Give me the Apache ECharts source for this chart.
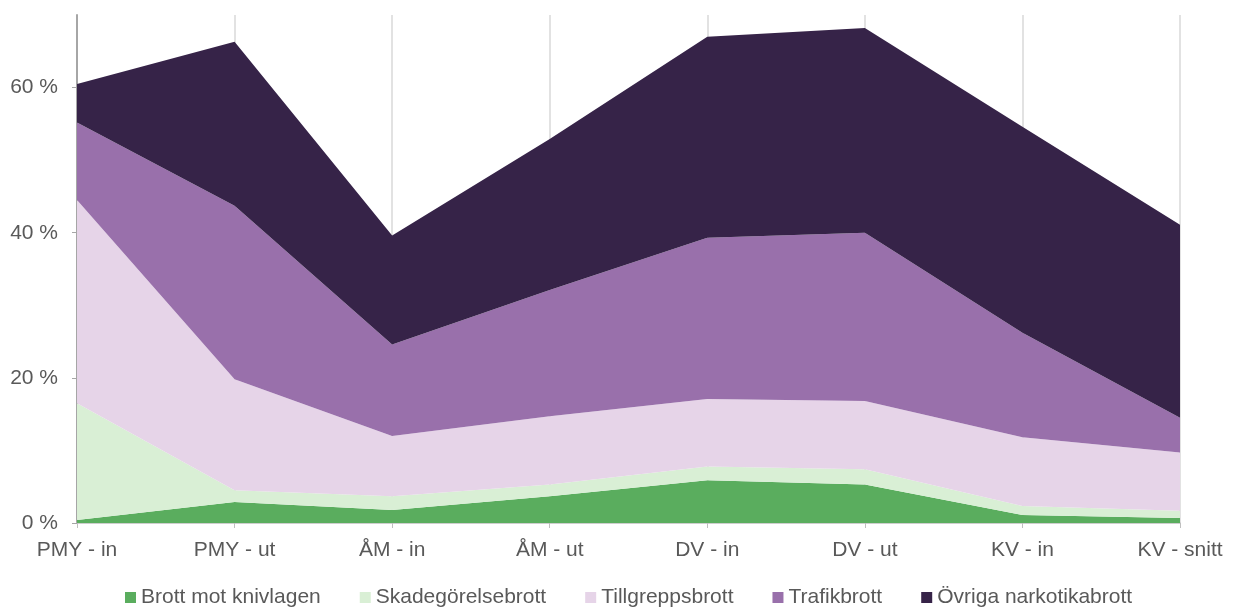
<!DOCTYPE html>
<html>
<head>
<meta charset="utf-8">
<script src="https://cdn.jsdelivr.net/npm/echarts@6/dist/echarts.min.js"></script>
<style>
  html, body { margin: 0; padding: 0; background: #fff; }
  #chart { width: 1236px; height: 608px; }
</style>
</head>
<body>
<div id="chart"></div>
<script>
const categories = ['PMY - in', 'PMY - ut', 'ÅM - in', 'ÅM - ut', 'DV - in', 'DV - ut', 'KV - in', 'KV - snitt'];
const yTicks = [0, 20, 40, 60];

// andel i procent, per brottstyp
const knivlagen = [0.4, 2.9, 1.8, 3.7, 5.9, 5.3, 1.1, 0.7];
const skadegorelse = [16.1, 1.6, 1.9, 1.6, 1.9, 2.1, 1.25, 1.0];
const tillgrepp = [28.0, 15.3, 8.3, 9.4, 9.3, 9.4, 9.45, 8.0];
const trafik = [10.7, 23.9, 12.6, 17.4, 22.2, 23.2, 14.4, 4.8];
const ovriga = [5.3, 22.6, 15.0, 20.8, 27.7, 28.2, 28.4, 26.6];

const seriesDefs = [
  { name: 'Brott mot knivlagen', data: knivlagen, color: '#5aad5e' },
  { name: 'Skadegörelsebrott', data: skadegorelse, color: '#d9efd5' },
  { name: 'Tillgreppsbrott', data: tillgrepp, color: '#e6d4e8' },
  { name: 'Trafikbrott', data: trafik, color: '#9970ab' },
  { name: 'Övriga narkotikabrott', data: ovriga, color: '#362348' }
];

const font = "'Liberation Sans', Arial, sans-serif";
const chart = echarts.init(document.getElementById('chart'));

chart.setOption({
  animation: false,
  grid: { left: 77, right: 56, top: 15, bottom: 85 },
  legend: {
    top: 587,
    left: 120,
    padding: [0, 5],
    icon: 'rect',
    itemWidth: 11,
    itemHeight: 11,
    itemGap: 39,
    textStyle: { color: '#595959', fontSize: 21, fontFamily: font },
    data: seriesDefs.map(s => s.name)
  },
  xAxis: {
    type: 'category',
    data: categories,
    boundaryGap: false,
    axisLine: { lineStyle: { color: '#bfbfbf', width: 1.5 } },
    axisTick: { show: true, length: 5, alignWithLabel: true, lineStyle: { color: '#bfbfbf' } },
    splitLine: { show: true, lineStyle: { color: '#d9d9d9', width: 1.5 } },
    axisLabel: { color: '#595959', fontSize: 21, fontFamily: font, margin: 17, interval: 0 }
  },
  yAxis: {
    type: 'value',
    min: 0,
    max: 70,
    interval: 10,
    axisLine: { show: true, lineStyle: { color: '#a6a6a6', width: 2 } },
    axisTick: { show: true, length: 5, customValues: yTicks, lineStyle: { color: '#a6a6a6' } },
    splitLine: { show: false },
    axisLabel: {
      color: '#595959', fontSize: 21, fontFamily: font, margin: 19,
      customValues: yTicks,
      formatter: v => v + ' %'
    }
  },
  series: seriesDefs.map(s => ({
    name: s.name,
    type: 'line',
    stack: 'total',
    data: s.data,
    symbol: 'none',
    lineStyle: { width: 0 },
    areaStyle: { color: s.color, opacity: 1 },
    itemStyle: { color: s.color }
  }))
});
</script>
</body>
</html>
